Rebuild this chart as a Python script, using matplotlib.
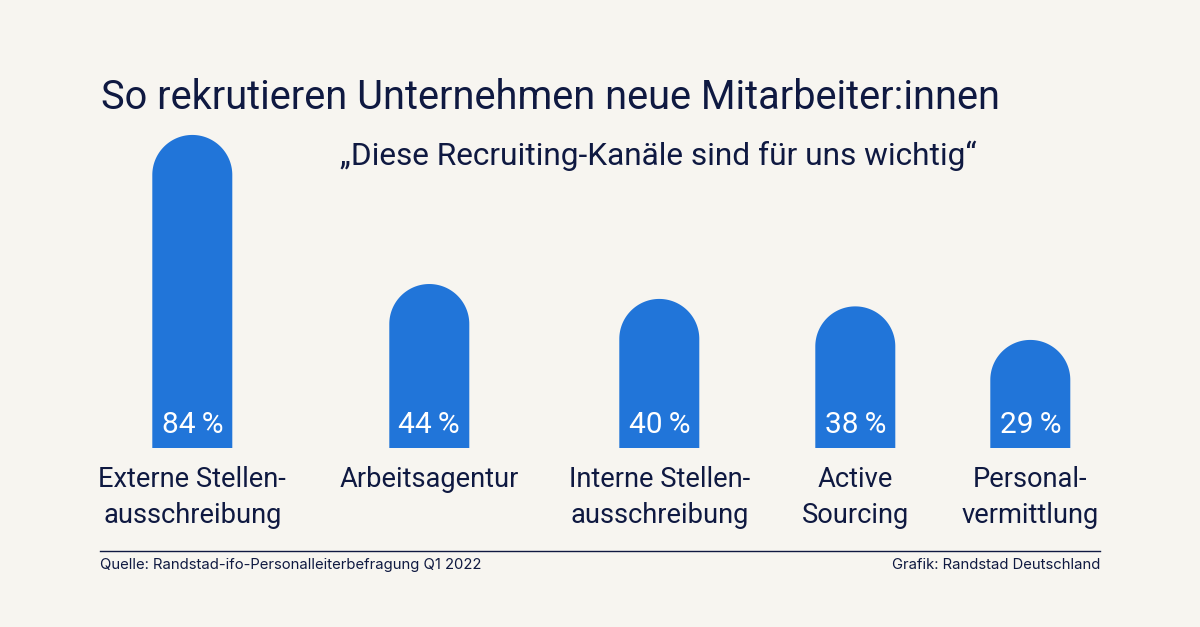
import matplotlib
matplotlib.use('Agg')
import matplotlib.pyplot as plt
import numpy as np

# Data
categories = ['Externe Stellen-\nausschreibung', 'Arbeitsagentur', 'Interne Stellen-\nausschreibung',
              'Active\nSourcing', 'Personal-\nvermittlung']
values = [84, 44, 40, 38, 29]
value_labels = ['84\u2009%', '44\u2009%', '40\u2009%', '38\u2009%', '29\u2009%']

# Layout, in pixels of the 1200x627 picture
centers = [192.3, 429.3, 659.3, 855.3, 1030.3]
BAR_W = 80
BASE_Y = 448
PX_PER_PCT = 3.727

BG = '#f7f5f0'
NAVY = '#0f1941'
BLUE = '#2175d9'

plt.rcParams['font.family'] = ['Roboto', 'DejaVu Sans']
INTER = ['Inter', 'DejaVu Sans']

fig = plt.figure(figsize=(12, 6.27), dpi=100, facecolor=BG)

# bar axes: x in pixels, y in percent, zero at the baseline
ax = fig.add_axes([0, (627 - BASE_Y) / 627, 1, BASE_Y / 627])
ax.set_xlim(0, 1200)
ax.set_ylim(0, BASE_Y / PX_PER_PCT)
ax.axis('off')

# overlay axes in pixels for text and rule
bg = fig.add_axes([0, 0, 1, 1])
bg.set_xlim(0, 1200)
bg.set_ylim(627, 0)
bg.axis('off')


def draw_round_bar(x, value):
    r = BAR_W / 2
    r_pct = r / PX_PER_PCT
    t = np.linspace(0, np.pi, 80)
    xs = np.r_[x + r, x + r * np.cos(t), x - r]
    ys = np.r_[0, value - r_pct + r_pct * np.sin(t), 0]
    ax.fill(xs, ys, color=BLUE, lw=0)


for x, v, lab, cat in zip(centers, values, value_labels, categories):
    draw_round_bar(x, v)
    bg.text(x, 433, lab, color='white', fontsize=21.5, ha='center', va='baseline')
    lines = cat.split('\n')
    bg.text(x, 487, lines[0], color=NAVY, fontsize=19.6, ha='center', va='baseline')
    if len(lines) > 1:
        bg.text(x, 523, lines[1], color=NAVY, fontsize=19.6, ha='center', va='baseline')

bg.text(101, 109, 'So rekrutieren Unternehmen neue Mitarbeiter:innen', color=NAVY, fontsize=28.6,
        ha='left', va='baseline')
bg.text(340, 165, '„Diese Recruiting-Kanäle sind für uns wichtig“', color=NAVY, fontsize=22.8,
        ha='left', va='baseline')

bg.plot([100, 1100], [551, 551], color=NAVY, lw=1.0)
bg.text(100, 569, 'Quelle: Randstad-ifo-Personalleiterbefragung Q1 2022', color=NAVY, fontsize=10.7,
        ha='left', va='baseline', family=INTER)
bg.text(1100, 569, 'Grafik: Randstad Deutschland', color=NAVY, fontsize=10.7, ha='right', va='baseline',
        family=INTER)

fig.savefig('out.png', dpi=100, facecolor=BG)
